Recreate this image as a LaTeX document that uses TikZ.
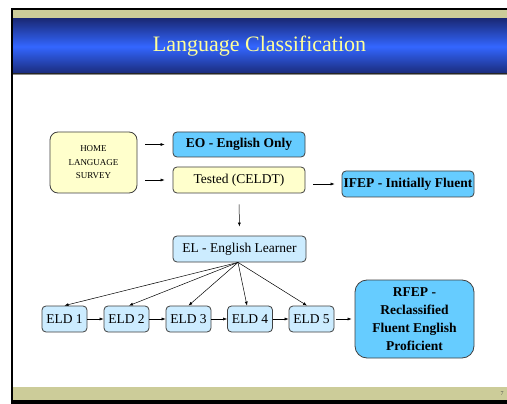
\documentclass[tikz,border=0pt]{standalone}
\usepackage{fontspec}
\setmainfont{Liberation Serif}
\usetikzlibrary{arrows.meta}
\definecolor{tanband}{HTML}{CCCC99}
\definecolor{bandblue}{HTML}{3366FF}
\definecolor{banddark}{HTML}{1A2A78}
\definecolor{titletext}{HTML}{FFFF99}
\definecolor{paleyellow}{HTML}{FFFFCC}
\definecolor{skyblue}{HTML}{66CCFF}
\definecolor{paleblue}{HTML}{CCECFF}
\definecolor{edge}{HTML}{404040}
\tikzset{
  box/.style={draw=edge, line width=0.8pt, rounded corners=4pt, inner sep=0pt,
    align=center, font=\fontsize{13.5}{17.8}\selectfont},
  yellowbox/.style={box, fill=paleyellow},
  bluebox/.style={box, fill=skyblue, font=\fontsize{13.5}{17.8}\selectfont\bfseries},
  palebox/.style={box, fill=paleblue},
  arr/.style={-{Latex[length=4pt,width=3pt]}, line width=0.5pt, black},
}
\begin{document}
\begin{tikzpicture}[x=1pt,y=-1pt]
\useasboundingbox (0,0) rectangle (507,404);
% slide frame and bands
\fill[white] (11,8) rectangle (507,404);
\fill[tanband] (13,10) rectangle (507,19);
\shade[top color=banddark, bottom color=banddark, middle color=bandblue] (13,19) rectangle (507,74);
\fill[black!85] (13,73.5) rectangle (507,74.5);
\fill[black!45] (13,74.5) rectangle (507,75.5);
\fill[tanband] (13,387) rectangle (507,400);
\fill[black] (11,8) rectangle (507,10);
\fill[black] (11,8) rectangle (13,404);
\fill[black] (11,400) rectangle (507,404);
\node[text=titletext, font=\fontsize{22}{26}\selectfont] (title) at (259.5,46) {Language Classification};
\node[text=black!70, font=\fontsize{6}{7}\selectfont] (pagenum) at (502,394) {7};
% classification boxes
\node[yellowbox, rounded corners=8pt, minimum width=87pt, minimum height=61pt,
  font=\fontsize{9}{13.5}\selectfont] (hls) at (93.5,162.5) {HOME\\LANGUAGE\\SURVEY};
\node[bluebox, minimum width=132pt, minimum height=25pt] (eo) at (239,144.5) {EO - English Only};
\node[yellowbox, minimum width=132pt, minimum height=26pt] (tested) at (239,180) {Tested (CELDT)};
\node[bluebox, minimum width=132pt, minimum height=26pt] (ifep) at (408,184) {IFEP - Initially Fluent};
\node[palebox, minimum width=133pt, minimum height=26pt] (el) at (239.5,249) {EL - English Learner};
\foreach \i/\x in {1/64.5,2/126.5,3/188.5,4/250,5/311.5}
  \node[palebox, minimum width=45pt, minimum height=26pt] (e\i) at (\x,319) {ELD \i};
\node[bluebox, rounded corners=12pt, minimum width=119pt, minimum height=78pt] (rfep) at (414.5,319)
  {RFEP -\\Reclassified\\Fluent English\\Proficient};
% connectors
\draw[arr, shorten <=8pt, shorten >=8pt] (hls.east |- eo.west) -- (eo.west);
\draw[arr, shorten <=8pt, shorten >=8pt] (hls.east |- tested.west) -- (tested.west);
\draw[arr, shorten <=8pt, shorten >=7pt] (tested.east |- ifep.west) -- (ifep.west);
\draw[arr, shorten <=11pt, shorten >=9pt] (tested.south) -- (el.north);
% fan from the learner box to each level
\coordinate (fan) at ([xshift=-1.5pt]el.south);
\foreach \i/\dx in {1/0,2/2.5,3/0,4/-3,5/-4.5}
  \draw[arr] (fan) -- ([xshift=\dx pt]e\i.north);
\foreach \i/\j in {1/2,2/3,3/4,4/5}
  \draw[arr] (e\i.east) -- (e\j.west);
\draw[arr, shorten <=2pt, shorten >=3pt] (e5.east) -- (rfep.west);
\end{tikzpicture}
\end{document}
